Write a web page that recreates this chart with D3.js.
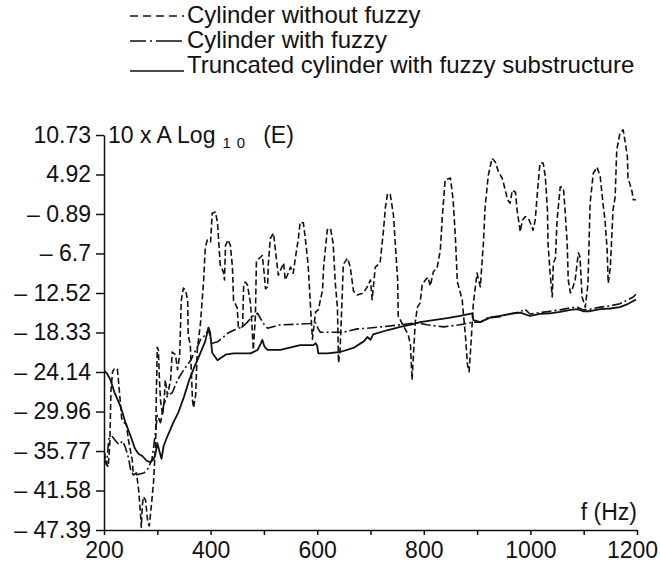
<!DOCTYPE html>
<html>
<head>
<meta charset="utf-8">
<script src="https://cdn.jsdelivr.net/npm/d3@7"></script>
<style>
  body { margin: 0; background: #fff; }
  svg text { font-family: "Liberation Sans", Arial, sans-serif; fill: #111; }
  .axis path, .axis line { stroke: #111; stroke-width: 1.5; }
  .axis text { font-size: 23px; }
</style>
</head>
<body>
<svg id="chart" width="660" height="570"></svg>
<script>
// f (Hz) vs 10 x A Log10 (E)
const withoutFuzzy = [[201,-36.0],[205,-37.8],[208,-38.1],[211,-34.5],[213,-27.0],[216,-24.1],[220,-23.6],[225,-23.7],[227,-25.3],[231,-28.9],[233,-30.9],[237,-31.5],[242,-31.9],[246,-34.2],[250,-35.9],[253,-37.1],[255,-39.3],[261,-39.0],[265,-41.5],[268,-44.5],[270,-47.0],[272,-43.7],[274,-42.5],[278,-43.0],[282,-46.2],[285,-46.8],[289,-43.7],[293,-40.3],[297,-34.2],[298,-28.3],[300,-20.5],[302,-20.9],[304,-25.3],[306,-28.3],[310,-30.5],[313,-28.3],[315,-25.3],[319,-27.5],[325,-25.3],[328,-21.2],[334,-21.6],[338,-23.8],[342,-21.6],[345,-13.6],[349,-11.8],[353,-12.1],[357,-13.6],[358,-18.7],[362,-20.2],[366,-28.3],[368,-29.4],[372,-27.5],[375,-20.9],[381,-17.0],[387,-10.6],[390,-5.8],[394,-4.7],[400,-5.0],[403,-0.8],[409,-0.6],[413,-2.2],[415,-4.7],[418,-8.4],[424,-9.4],[426,-10.6],[428,-5.5],[433,-4.7],[437,-5.5],[441,-8.7],[443,-13.6],[450,-14.7],[452,-17.5],[460,-17.5],[462,-11.5],[465,-10.9],[469,-11.3],[475,-14.1],[478,-17.8],[480,-20.9],[484,-16.1],[486,-7.8],[497,-7.0],[501,-10.0],[503,-11.9],[507,-11.6],[508,-8.6],[512,-4.5],[518,-3.7],[522,-6.5],[527,-9.9],[531,-9.2],[537,-8.1],[540,-10.6],[544,-9.9],[550,-8.7],[555,-9.6],[559,-7.4],[565,-4.3],[568,-2.1],[574,-2.2],[578,-4.7],[583,-8.4],[587,-13.9],[591,-19.3],[597,-15.3],[602,-15.0],[610,-12.1],[612,-8.7],[619,-3.2],[625,-3.0],[630,-5.3],[634,-11.1],[638,-14.7],[640,-22.8],[643,-20.9],[647,-12.7],[649,-8.3],[657,-7.4],[662,-8.7],[668,-12.2],[675,-12.8],[687,-12.5],[694,-11.6],[700,-10.6],[703,-13.5],[709,-8.7],[718,-8.1],[724,-3.6],[728,0.1],[732,2.1],[737,2.0],[743,-1.0],[747,-5.8],[751,-10.6],[752,-15.9],[762,-17.4],[771,-18.7],[775,-20.2],[778,-25.3],[780,-22.4],[784,-16.8],[788,-14.6],[793,-14.0],[797,-11.3],[803,-10.6],[808,-10.2],[812,-11.5],[818,-9.4],[825,-8.8],[831,-6.2],[835,-1.0],[840,4.1],[850,4.4],[855,1.2],[859,-3.9],[863,-10.9],[872,-13.5],[874,-15.3],[878,-18.7],[882,-23.1],[885,-24.1],[889,-19.4],[893,-14.0],[900,-9.6],[906,-11.6],[912,-5.0],[915,0.1],[921,4.8],[928,7.3],[934,6.8],[940,5.3],[947,4.4],[953,2.6],[957,1.2],[962,0.7],[966,2.6],[972,2.3],[975,-0.3],[981,-3.5],[985,-1.8],[990,-1.3],[996,-1.5],[1003,-2.8],[1005,-3.3],[1009,-1.8],[1014,3.1],[1018,6.6],[1024,6.6],[1028,4.6],[1032,-0.3],[1033,-5.2],[1037,-9.6],[1041,-13.1],[1043,-8.1],[1047,-7.4],[1050,-1.8],[1056,3.1],[1062,2.9],[1065,-0.3],[1069,-5.2],[1071,-10.6],[1075,-12.5],[1078,-12.1],[1084,-10.6],[1090,-6.6],[1093,-7.2],[1097,-13.1],[1103,-14.6],[1108,-11.1],[1112,0.7],[1118,5.1],[1125,6.0],[1131,4.6],[1137,0.1],[1140,-1.8],[1144,-6.2],[1146,-11.1],[1150,-8.7],[1153,-3.7],[1155,-0.3],[1159,1.6],[1162,8.5],[1168,11.0],[1174,11.5],[1178,9.6],[1182,7.5],[1183,4.5],[1191,2.3],[1193,1.2],[1198,1.2]];

const withFuzzy = [[201,-37.0],[205,-37.8],[209,-34.0],[215,-33.6],[222,-34.3],[228,-34.8],[235,-34.3],[240,-35.2],[246,-36.8],[250,-38.5],[255,-39.3],[265,-39.2],[275,-39.0],[283,-38.3],[290,-37.0],[295,-34.0],[300,-30.5],[306,-31.6],[312,-29.0],[319,-27.6],[328,-27.2],[338,-25.3],[349,-23.9],[362,-22.5],[375,-20.5],[381,-19.4],[390,-18.7],[396,-17.9],[400,-19.2],[403,-19.9],[413,-19.7],[424,-19.0],[433,-18.4],[443,-18.0],[460,-17.5],[469,-16.8],[478,-16.0],[488,-15.5],[499,-17.0],[507,-17.7],[531,-17.2],[568,-17.1],[587,-17.0],[597,-16.9],[602,-17.8],[606,-18.3],[630,-18.3],[649,-18.3],[675,-17.8],[694,-17.7],[720,-17.5],[756,-17.2],[788,-16.9],[806,-17.2],[837,-17.5],[868,-17.2],[893,-16.8],[906,-16.8],[919,-16.2],[943,-16.0],[960,-15.6],[981,-15.3],[990,-14.9],[999,-15.6],[1018,-15.4],[1037,-15.2],[1056,-15.0],[1075,-14.7],[1088,-14.6],[1099,-15.0],[1112,-14.9],[1131,-14.6],[1150,-14.4],[1168,-14.1],[1181,-13.6],[1193,-13.1],[1198,-12.7]];

const truncated = [[201,-24.0],[206,-24.4],[212,-25.3],[220,-27.2],[231,-29.2],[240,-31.5],[250,-33.6],[258,-35.4],[265,-36.2],[272,-36.5],[280,-37.2],[287,-37.4],[293,-37.0],[296,-36.4],[300,-34.6],[304,-35.8],[308,-36.9],[312,-35.0],[319,-33.6],[330,-31.6],[340,-30.0],[350,-27.8],[360,-25.3],[370,-23.3],[380,-21.5],[390,-19.6],[396,-17.6],[399,-18.3],[403,-21.3],[413,-22.4],[428,-21.6],[443,-21.4],[475,-21.4],[488,-20.9],[494,-20.0],[497,-19.4],[501,-20.4],[507,-20.9],[531,-20.9],[568,-20.2],[593,-20.2],[597,-19.9],[600,-20.3],[602,-21.4],[619,-21.4],[643,-21.2],[668,-20.6],[688,-19.6],[694,-19.0],[700,-19.4],[705,-18.6],[731,-18.0],[756,-17.5],[780,-17.1],[793,-16.8],[818,-16.5],[844,-16.2],[868,-15.9],[891,-15.5],[893,-16.5],[906,-16.8],[925,-16.1],[943,-15.9],[962,-15.6],[981,-15.4],[999,-15.9],[1018,-15.6],[1037,-15.5],[1056,-15.3],[1075,-15.0],[1088,-14.9],[1099,-15.2],[1112,-15.2],[1131,-14.9],[1150,-14.8],[1168,-14.6],[1181,-14.2],[1193,-13.7],[1198,-13.5]];

const yTicks = [10.73, 4.92, -0.89, -6.7, -12.52, -18.33, -24.14, -29.96, -35.77, -41.58, -47.39];
const yTickLabels = ['10.73', '4.92', '\u2013 0.89', '\u2013 6.7', '\u2013 12.52', '\u2013 18.33', '\u2013 24.14', '\u2013 29.96', '\u2013 35.77', '\u2013 41.58', '\u2013 47.39'];
const xTicks = [200, 300, 400, 500, 600, 700, 800, 900, 1000, 1100, 1200];
const xTickLabels = ['200', '', '400', '', '600', '', '800', '', '1000', '', '1200'];

const seriesNames = ['Cylinder without fuzzy', 'Cylinder with fuzzy', 'Truncated cylinder with fuzzy substructure'];
const dashes = ['6,3', '10,3,2,3', null];
const legendDashes = ['8,5', '16,4,2,4,26', null];

const svg = d3.select('#chart');
const margin = {top: 135, right: 23, bottom: 40, left: 104};
const W = 660, H = 570;

const x = d3.scaleLinear().domain([200, 1200]).range([margin.left, W - margin.right]);
const y = d3.scaleLinear().domain([-47.39, 10.73]).range([H - margin.bottom, margin.top]);

// axes
const xAxis = svg.append('g').attr('class', 'axis')
  .attr('transform', `translate(0,${H - margin.bottom})`)
  .call(d3.axisBottom(x).tickValues(xTicks).tickSize(5).tickSizeOuter(0).tickPadding(7)
    .tickFormat((d, i) => xTickLabels[i]));
// last label sits a little left of its tick, as in the original
xAxis.selectAll('.tick text').filter(d => d == 1200).attr('dx', -5);

svg.append('g').attr('class', 'axis')
  .attr('transform', `translate(${margin.left},0)`)
  .call(d3.axisLeft(y).tickValues(yTicks).tickSize(8).tickSizeOuter(0).tickPadding(5)
    .tickFormat((d, i) => yTickLabels[i]));

svg.selectAll('.axis .domain').attr('stroke-width', 1.6);

// axis titles
const yTitle = svg.append('text').attr('x', margin.left + 4).attr('y', y(10.73) + 8).style('font-size', '23px');
yTitle.append('tspan').text('10 x A Log');
yTitle.append('tspan').attr('dx', 7).attr('dy', 5).style('font-size', '15px').style('letter-spacing', '6px').text('10');
yTitle.append('tspan').attr('dx', 12).attr('dy', -5).text('(E)');

svg.append('text').attr('x', x(1200)).attr('y', y(-47.39) - 10)
  .attr('text-anchor', 'end').style('font-size', '23px').text('f (Hz)');

// curves
const line = d3.line().x(d => x(d[0])).y(d => y(d[1])).curve(d3.curveLinear);
[withoutFuzzy, withFuzzy, truncated].forEach((data, i) => {
  svg.append('path').datum(data)
    .attr('fill', 'none').attr('stroke', '#111')
    .attr('stroke-width', i == 2 ? 1.8 : 1.6)
    .attr('stroke-linejoin', 'round')
    .attr('stroke-dasharray', dashes[i])
    .attr('d', line);
});

// legend
const legend = svg.append('g').attr('transform', 'translate(130,0)');
seriesNames.forEach((name, i) => {
  const yy = 23 + i * 25;
  const ly = i == 2 ? yy - 2 : yy - 7;
  legend.append('line')
    .attr('x1', 0).attr('x2', 54)
    .attr('y1', ly).attr('y2', ly)
    .attr('stroke', '#111').attr('stroke-width', 1.6)
    .attr('stroke-dasharray', legendDashes[i]);
  legend.append('text').attr('x', 57).attr('y', yy).style('font-size', '24px').text(name);
});
</script>
</body>
</html>
